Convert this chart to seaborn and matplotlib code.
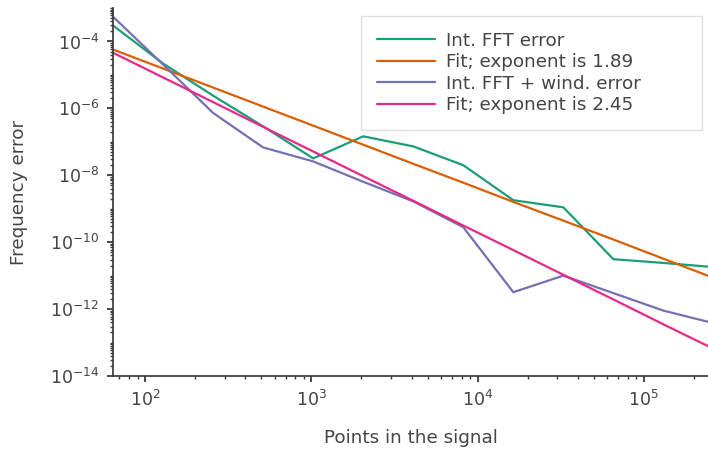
import numpy as np
import pandas as pd
import matplotlib
matplotlib.use("Agg")
import matplotlib.pyplot as plt
import matplotlib.ticker as mticker
import seaborn as sns

# number of points in the signal (powers of two)
points = [64, 128, 256, 512, 1024, 2048, 4096, 8192, 16384, 32768, 65536, 131072, 262144]

# measured errors
fft_error = [3.0e-4, 2.2e-5, 2.4e-6, 2.9e-7, 3.2e-8, 1.46e-7, 7.3e-8, 2.0e-8,
             1.8e-9, 1.1e-9, 3.1e-11, 2.4e-11, 1.8e-11]
fft_wind_error = [5.5e-4, 2.05e-5, 7.3e-7, 6.8e-8, 2.6e-8, 6.4e-9, 1.66e-9, 2.8e-10,
                  3.2e-12, 1.0e-11, 3.0e-12, 9.0e-13, 3.8e-13]

# fitted power laws
fit_fft = [5.75e-5, 1.55e-5, 4.19e-6, 1.13e-6, 3.05e-7, 8.2e-8, 2.2e-8, 6.0e-9,
           1.6e-9, 4.4e-10, 1.2e-10, 3.2e-11, 8.6e-12]
fit_fft_wind = [4.6e-5, 8.4e-6, 1.54e-6, 2.8e-7, 5.15e-8, 9.4e-9, 1.73e-9, 3.15e-10,
                5.8e-11, 1.06e-11, 1.94e-12, 3.5e-13, 6.5e-14]

labels = ["Int. FFT error", "Fit; exponent is 1.89",
          "Int. FFT + wind. error", "Fit; exponent is 2.45"]

df = pd.concat([
    pd.DataFrame({"points": points, "error": fft_error, "series": labels[0]}),
    pd.DataFrame({"points": points, "error": fit_fft, "series": labels[1]}),
    pd.DataFrame({"points": points, "error": fft_wind_error, "series": labels[2]}),
    pd.DataFrame({"points": points, "error": fit_fft_wind, "series": labels[3]}),
])

sns.set_theme(style="ticks", context="notebook")
text_col = "#444444"
plt.rcParams["font.family"] = ["DejaVu Sans"]
plt.rcParams["axes.unicode_minus"] = False
plt.rcParams["text.color"] = text_col
plt.rcParams["axes.labelcolor"] = text_col
plt.rcParams["xtick.color"] = "#3a3a3a"
plt.rcParams["ytick.color"] = "#3a3a3a"
plt.rcParams["xtick.labelcolor"] = text_col
plt.rcParams["ytick.labelcolor"] = text_col
plt.rcParams["axes.edgecolor"] = "#3a3a3a"

fig = plt.figure(figsize=(7.08, 4.49), dpi=100)
ax = fig.add_axes([113 / 708, 73 / 449, 595 / 708, 368 / 449])

sns.lineplot(data=df, x="points", y="error", hue="series", hue_order=labels,
             palette=sns.color_palette("Dark2", 4), linewidth=1.6, ax=ax)

ax.set_xscale("log")
ax.set_yscale("log")
ax.set_xlim(64, 2.43e5)
ax.set_ylim(1e-14, 1e-3)

ax.yaxis.set_major_locator(mticker.FixedLocator([10.0 ** e for e in range(-14, -3, 2)]))
ax.yaxis.set_minor_locator(mticker.LogLocator(base=10, subs=np.arange(1, 10), numticks=100))
ax.xaxis.set_major_locator(mticker.LogLocator(base=10, numticks=20))
ax.xaxis.set_minor_locator(mticker.LogLocator(base=10, subs=np.arange(2, 10), numticks=100))
ax.yaxis.set_minor_formatter(mticker.NullFormatter())
ax.xaxis.set_minor_formatter(mticker.NullFormatter())

ax.tick_params(axis="both", which="major", labelsize=12.5, length=4, width=1.3, pad=6)
ax.tick_params(axis="both", which="minor", length=2, width=1.0)

ax.set_xlabel("Points in the signal", fontsize=13.2, labelpad=14)
ax.set_ylabel("Frequency error", fontsize=13.2, labelpad=16)

sns.despine(ax=ax)

ax.legend(loc="upper left", bbox_to_anchor=(0.4168, 0.6, 0.5731, 0.3783),
          mode="expand", borderaxespad=0, borderpad=0.85,
          fontsize=13.2, labelspacing=0.19, handlelength=3.2, handletextpad=0.6,
          fancybox=False, edgecolor="#d8d8d8", frameon=True)

fig.savefig("out.png", dpi=100)
